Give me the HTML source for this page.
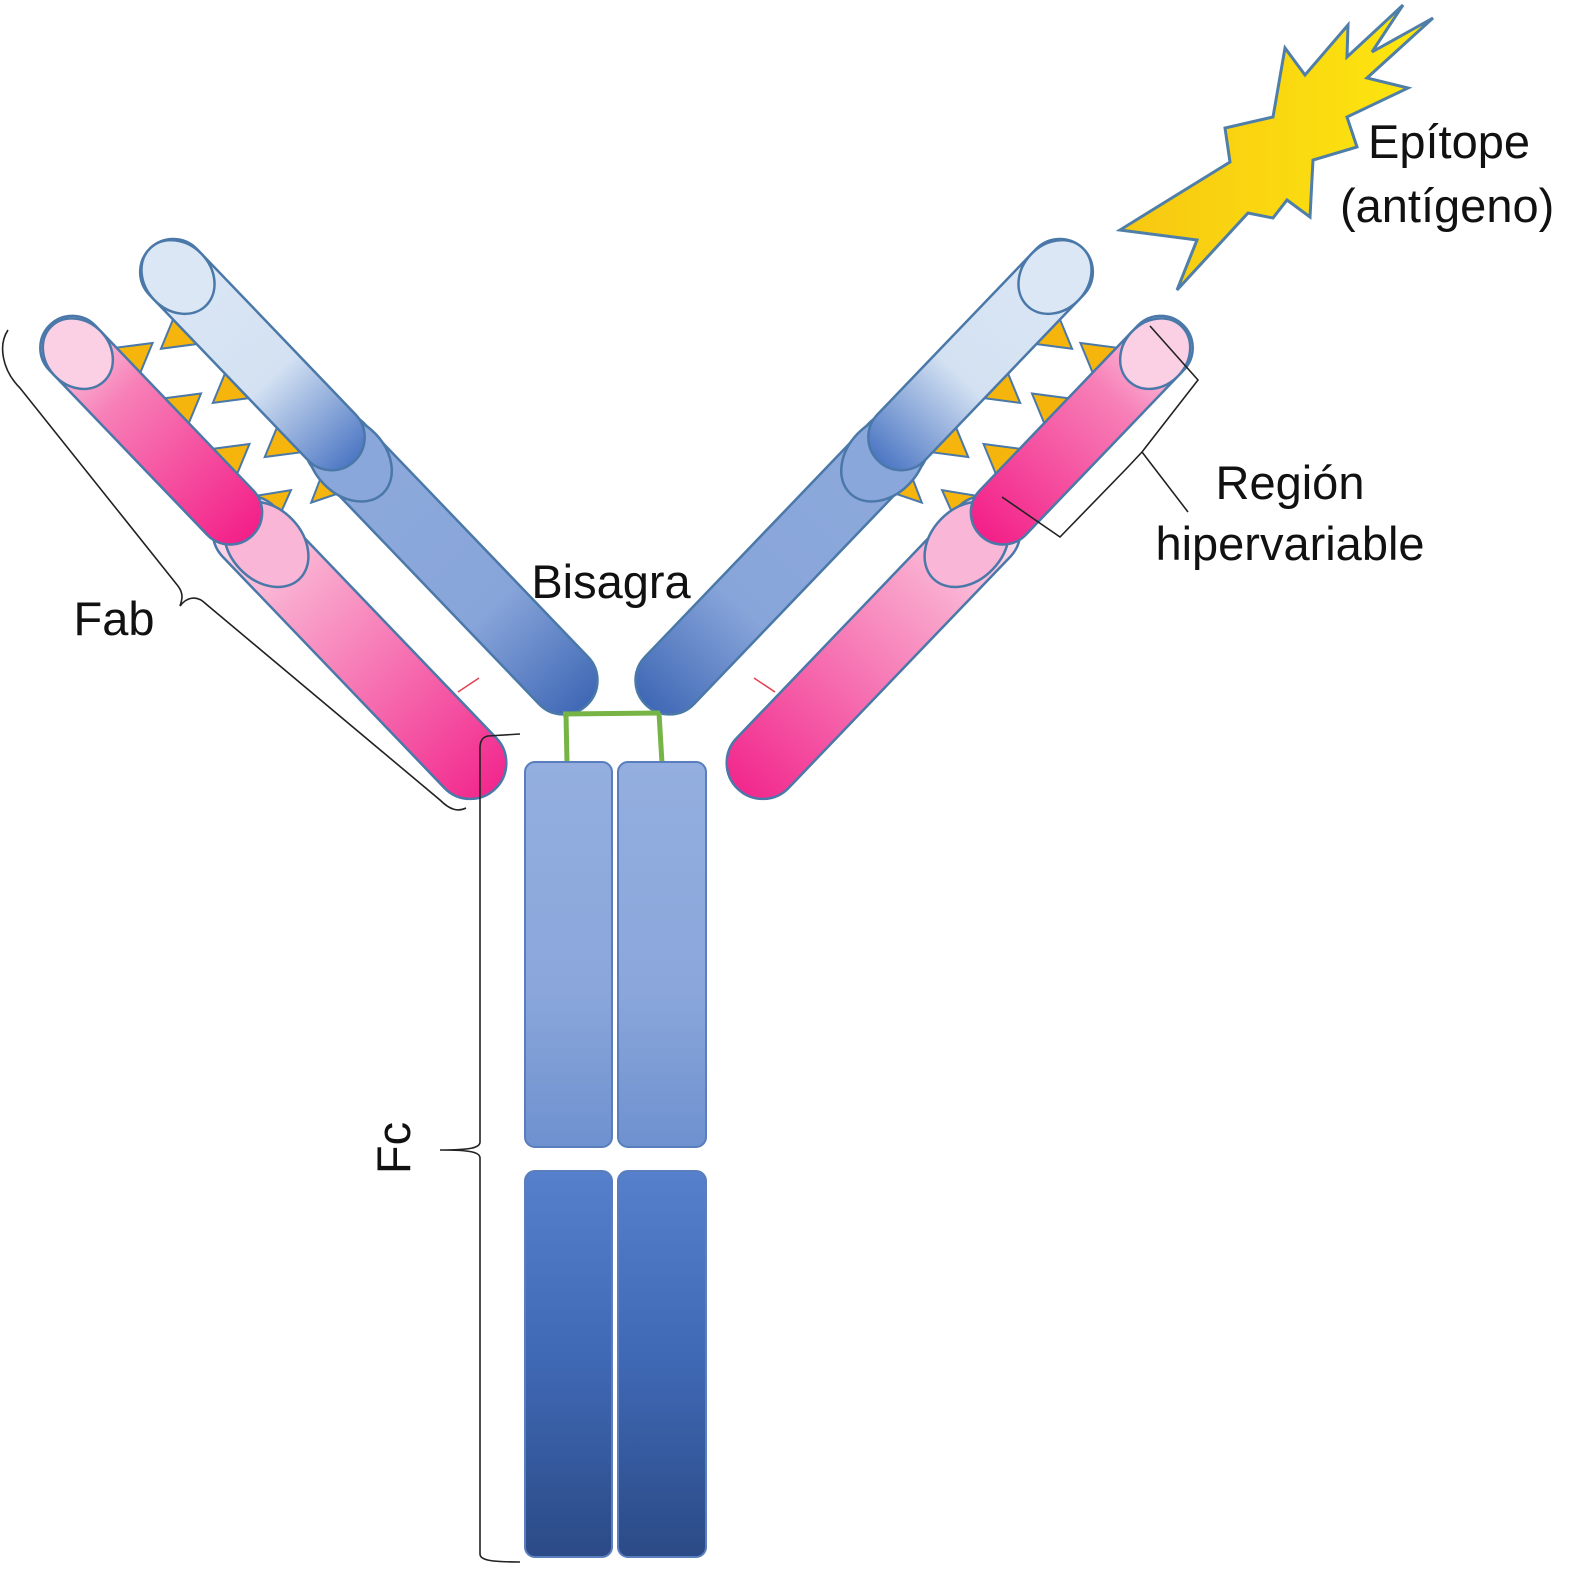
<!DOCTYPE html>
<html><head><meta charset="utf-8"><style>
html,body{margin:0;padding:0;background:#fff}
svg{display:block}
text{font-family:"Liberation Sans",Arial,sans-serif;fill:#111}
</style></head><body>
<svg width="1570" height="1578" viewBox="0 0 1570 1578" xmlns="http://www.w3.org/2000/svg">
<defs>
<linearGradient id="lb" x1="0" y1="0" x2="1" y2="0"><stop offset="0" stop-color="#dde8f5"/><stop offset="0.6" stop-color="#d3e1f2"/><stop offset="1" stop-color="#4d77c4"/></linearGradient>
<linearGradient id="db" x1="0" y1="0" x2="1" y2="0"><stop offset="0" stop-color="#8eaadc"/><stop offset="0.65" stop-color="#88a5da"/><stop offset="1" stop-color="#3f68b5"/></linearGradient>
<linearGradient id="pk" x1="0" y1="0" x2="1" y2="0"><stop offset="0" stop-color="#fbe0ee"/><stop offset="0.35" stop-color="#f77fb7"/><stop offset="1" stop-color="#f31f88"/></linearGradient>
<linearGradient id="pk2" x1="0" y1="0" x2="1" y2="0"><stop offset="0" stop-color="#fde4f0"/><stop offset="0.3" stop-color="#f9a6cc"/><stop offset="1" stop-color="#f2288d"/></linearGradient>
<linearGradient id="fc1" x1="0" y1="0" x2="0" y2="1"><stop offset="0" stop-color="#93aedf"/><stop offset="0.6" stop-color="#8aa6db"/><stop offset="1" stop-color="#6e91cf"/></linearGradient>
<linearGradient id="fc2" x1="0" y1="0" x2="0" y2="1"><stop offset="0" stop-color="#5680cc"/><stop offset="0.5" stop-color="#3f68b4"/><stop offset="1" stop-color="#2b4a86"/></linearGradient>
<linearGradient id="star" x1="0" y1="0" x2="1" y2="0"><stop offset="0" stop-color="#f7c812"/><stop offset="1" stop-color="#fde70e"/></linearGradient>
<g id="arm">
  <g transform="translate(178,277) rotate(46.2)">
    <g fill="#f5b50c" stroke="#4a78a8" stroke-width="2">
      <polygon points="25,28 65,28 40,62"/>
      <polygon points="100,28 140,28 115,62"/>
      <polygon points="175,28 215,28 190,62"/>
      <polygon points="240,28 270,28 255,60"/>
      <polygon points="5,98 45,98 30,64"/>
      <polygon points="75,98 115,98 100,64"/>
      <polygon points="145,98 185,98 170,64"/>
      <polygon points="210,98 245,98 232,66"/>
    </g>
  </g>
  <g transform="translate(178,277) rotate(46.2)" stroke="#4a78a8" stroke-width="2.5">
    <rect x="200" y="-33" width="392" height="68" rx="34" fill="url(#db)"/>
    <ellipse cx="250" cy="2" rx="48" ry="36" fill="#8aa7db"/>
    <rect x="-40" y="-33" width="295" height="66" rx="33" fill="url(#lb)"/>
    <ellipse cx="0" cy="0" rx="40" ry="33" fill="#dbe7f5"/>
  </g>
  <g transform="translate(82,358) rotate(46.2)" stroke="#4a78a8" stroke-width="2.5">
    <rect x="205" y="-36" width="392" height="72" rx="36" fill="url(#pk2)"/>
    <ellipse cx="262" cy="-4" rx="48" ry="36" fill="#f9b6d6"/>
    <rect x="-46" y="-32" width="292" height="64" rx="32" fill="url(#pk)"/>
    <ellipse cx="-6" cy="0" rx="38" ry="32" fill="#fbd0e4"/>
  </g>
  <line x1="458" y1="692" x2="479" y2="678" stroke="#e04050" stroke-width="1.5"/>
</g>
</defs>
<use href="#arm"/>
<use href="#arm" transform="translate(1233,0) scale(-1,1)"/>

<g stroke="#77b446" stroke-width="5" fill="none">
  <line x1="563" y1="714" x2="660" y2="713"/>
  <line x1="566" y1="714" x2="567" y2="763"/>
  <line x1="659" y1="713" x2="662" y2="763"/>
</g>

<g stroke="#5a7dbd" stroke-width="2">
  <rect x="525" y="762" width="87" height="385" rx="10" fill="url(#fc1)"/>
  <rect x="618" y="762" width="88" height="385" rx="10" fill="url(#fc1)"/>
  <rect x="525" y="1171" width="87" height="386" rx="10" fill="url(#fc2)"/>
  <rect x="618" y="1171" width="88" height="386" rx="10" fill="url(#fc2)"/>
</g>

<polygon fill="url(#star)" stroke="#4f7fa8" stroke-width="3"
 points="1403,5 1372,52 1433,18 1367,78 1408,88 1347,117 1357,147 1313,160 1310,217 1287,200 1273,218 1248,213 1177,290 1197,240 1120,230 1230,162 1225,128 1273,117 1285,48 1305,75 1348,25 1347,57"/>

<g fill="none" stroke="#222" stroke-width="1.6">
  <path d="M8,330 C-2,345 2,370 20,388 L178,586 C184,594 182,600 180,606 C186,598 196,594 206,604 L440,800 C450,810 458,812 466,808"/>
  <path d="M520,734 L488,736 C482,737 480,742 480,748 L480,1142 C480,1148 470,1150 440,1150 C470,1150 480,1152 480,1158 L480,1554 C480,1560 490,1562 520,1562"/>
  <path d="M1150,326 L1198,380 L1142,452 L1127,468 L1060,537 L1002,497 M1142,452 L1188,512"/>
</g>

<text x="1368" y="158" font-size="47">Epítope</text>
<text x="1340" y="222" font-size="47">(antígeno)</text>
<text x="1290" y="499" font-size="47" text-anchor="middle">Región</text>
<text x="1290" y="560" font-size="47" text-anchor="middle">hipervariable</text>
<text x="611" y="598" font-size="47" text-anchor="middle">Bisagra</text>
<text x="114" y="635" font-size="47" text-anchor="middle">Fab</text>
<text transform="translate(410,1148) rotate(-90)" font-size="47" text-anchor="middle">Fc</text>
</svg>
</body></html>
